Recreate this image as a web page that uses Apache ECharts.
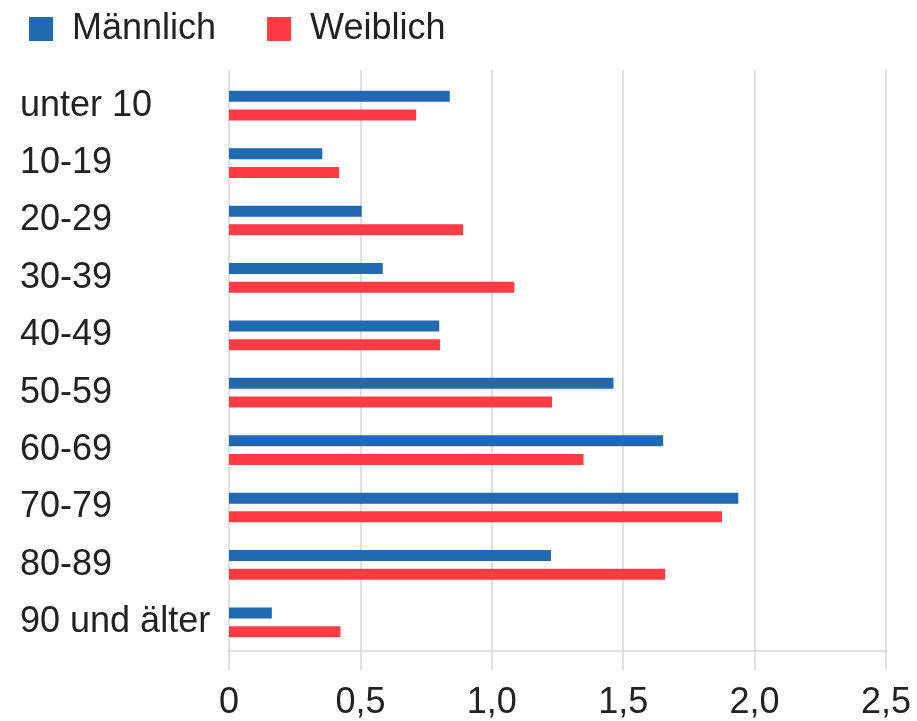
<!DOCTYPE html>
<html>
<head>
<meta charset="utf-8">
<script src="https://cdn.jsdelivr.net/npm/echarts@6/dist/echarts.min.js"></script>
<style>
html,body{margin:0;padding:0;background:#fff;}
#chart{width:917px;height:721px;}
</style>
</head>
<body>
<div id="chart"></div>
<script>
const categories = ['unter 10','10-19','20-29','30-39','40-49','50-59','60-69','70-79','80-89','90 und älter'];
const maennlich = [0.84, 0.355, 0.505, 0.585, 0.80, 1.463, 1.652, 1.938, 1.225, 0.163];
const weiblich  = [0.712, 0.419, 0.891, 1.086, 0.803, 1.229, 1.349, 1.876, 1.66, 0.424];
const xTicks = [0, 0.5, 1.0, 1.5, 2.0, 2.5];

const FONT = 'Liberation Sans, Arial, sans-serif';
const TXT = '#222222';
const GRID = '#d6d6d6';

const chart = echarts.init(document.getElementById('chart'));
chart.setOption({
  animation: false,
  backgroundColor: '#ffffff',
  textStyle: { fontFamily: FONT },
  legend: {
    left: 24, top: 6,
    itemWidth: 24, itemHeight: 24, itemGap: 51,
    icon: 'rect',
    textStyle: { fontSize: 36, color: TXT, fontFamily: FONT, padding: [0,0,0,14] },
    data: ['Männlich','Weiblich']
  },
  grid: { left: 229, right: 31, top: 77, bottom: 68, containLabel: false },
  xAxis: [{
    type: 'value', min: xTicks[0], max: xTicks[xTicks.length-1], interval: 0.5,
    axisLine: { show: true, lineStyle: { color: GRID, width: 1.5 } },
    axisTick: { show: true, inside: false, length: 19, lineStyle: { color: GRID, width: 1.5 } },
    splitLine: { show: true, lineStyle: { color: GRID, width: 1.5 } },
    axisLabel: {
      margin: 34, fontSize: 36, color: TXT, fontFamily: FONT,
      formatter: v => v === 0 ? '0' : v.toFixed(1).replace('.', ',')
    }
  },{
    type: 'value', position: 'top', min: xTicks[0], max: xTicks[xTicks.length-1], interval: 0.5,
    axisLine: { show: false },
    axisTick: { show: true, length: 7, lineStyle: { color: GRID, width: 1.5 } },
    splitLine: { show: false },
    axisLabel: { show: false }
  }],
  yAxis: {
    type: 'category', data: categories, inverse: true,
    axisLine: { show: false }, axisTick: { show: false },
    axisLabel: { margin: 209, align: 'left', fontSize: 36, color: TXT, fontFamily: FONT }
  },
  series: [
    { name: 'Männlich', type: 'bar', data: maennlich, barWidth: 11, barGap: '70%',
      itemStyle: { color: '#2169B0' } },
    { name: 'Weiblich', type: 'bar', data: weiblich, barWidth: 11, barGap: '70%',
      itemStyle: { color: '#FF3C46' } }
  ]
});
</script>
</body>
</html>
